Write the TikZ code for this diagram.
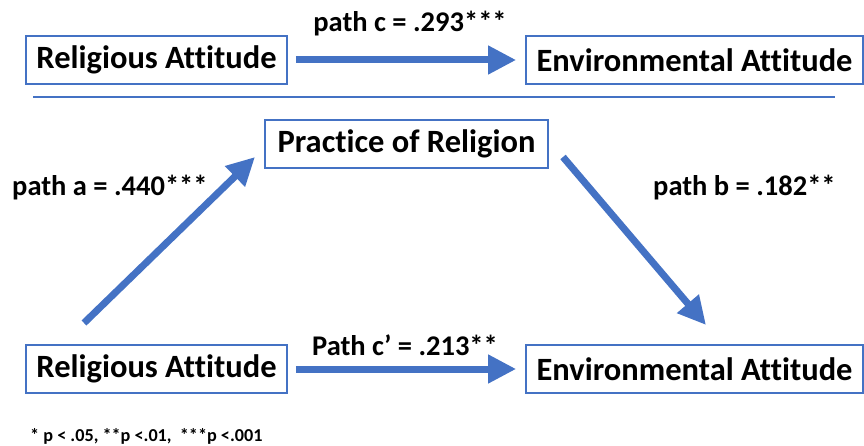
\documentclass[tikz,border=0pt]{standalone}
\usepackage{fontspec}
\setmainfont{Carlito}[Ligatures=NoCommon]
\usetikzlibrary{arrows.meta}
\definecolor{obl}{HTML}{4472C4}
\tikzset{
  varbox/.style={draw=obl, line width=1.6pt, inner sep=0pt, minimum height=48pt, font=\fontsize{32.5}{36}\selectfont\bfseries, text=black},
  plabel/.style={font=\fontsize{28.5}{32}\selectfont\bfseries, text=black, inner sep=0pt},
  fat/.style={draw=obl, line width=7pt, -{Triangle[length=28pt,width=27pt]}},
}
\begin{document}
\begin{tikzpicture}[x=1pt,y=-1pt]
\useasboundingbox (0,0) rectangle (864,446);
% top
\node[varbox, minimum width=261pt] (ra1) at (156.5,60) {Religious Attitude};
\node[varbox, minimum width=337pt] (ea1) at (694.5,60) {Environmental Attitude};
\draw[fat, shorten <=8pt, shorten >=9pt] (ra1.east) -- (ea1.west);
\node[plabel] (lc) at (410,24) {path c = .293***};
% separator
\coordinate (s0) at (33,97);
\coordinate (s1) at (835,97);
\draw[obl, line width=2pt] (s0) -- (s1);
% mediation
\node[varbox, minimum width=283pt] (pr) at (406.5,144) {Practice of Religion};
\node[varbox, minimum width=261pt] (ra2) at (156.5,369) {Religious Attitude};
\node[varbox, minimum width=337pt] (ea2) at (694.5,369) {Environmental Attitude};
\draw[fat, shorten <=8pt, shorten >=9pt] (ra2.east) -- (ea2.west);
\node[plabel] (lcp) at (405,345) {Path c’ = .213**};
\coordinate (a0) at (84,323);
\coordinate (a1) at (255,157);
\draw[fat] (a0) -- (a1);
\coordinate (b0) at (563,157);
\coordinate (b1) at (706,325);
\draw[fat] (b0) -- (b1);
\node[plabel, anchor=west] (la) at (12,188) {path a = .440***};
\node[plabel, anchor=west] (lb) at (653,188) {path b = .182**};
\node[font=\fontsize{18.2}{21}\selectfont\bfseries, anchor=west, inner sep=0pt] (fn) at (30,436) {* p < .05, **p <.01,\ \ ***p <.001};
\end{tikzpicture}
\end{document}
